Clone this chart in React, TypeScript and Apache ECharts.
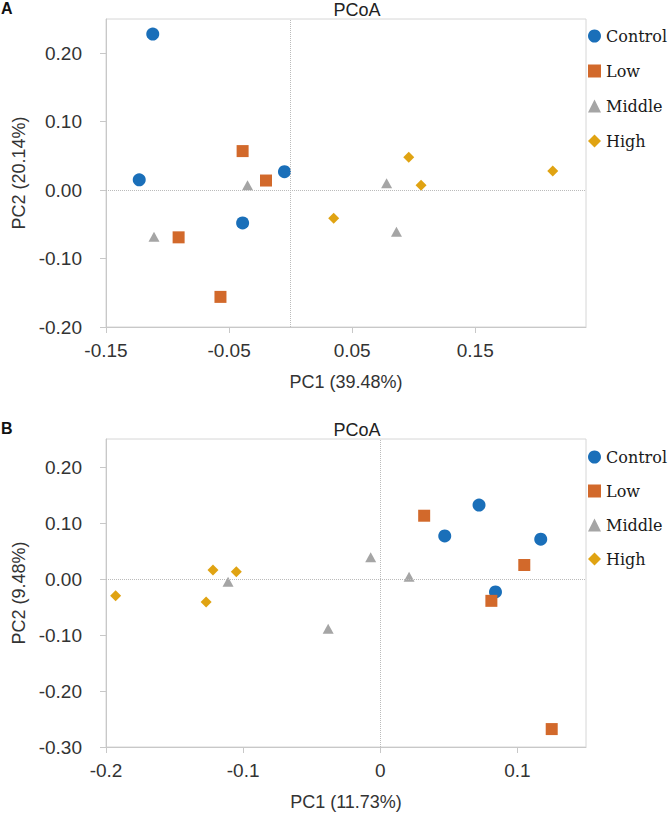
import React, { useEffect, useRef } from "react";
import * as echarts from "echarts";

// Panel A (PC1 39.48%, PC2 20.14%)
const groups = ["Control", "Low", "Middle", "High"];
const aControlX = [-0.112, -0.123, -0.005, -0.039];
const aControlY = [0.228, 0.015, 0.027, -0.048];
const aLowX = [-0.039, -0.02, -0.091, -0.057];
const aLowY = [0.057, 0.014, -0.069, -0.156];
const aMiddleX = [-0.111, -0.035, 0.078, 0.086];
const aMiddleY = [-0.068, 0.007, 0.01, -0.061];
const aHighX = [0.035, 0.096, 0.106, 0.213];
const aHighY = [-0.041, 0.048, 0.007, 0.028];

// Panel B (PC1 11.73%, PC2 9.48%)
const bControlX = [0.072, 0.047, 0.117, 0.084];
const bControlY = [0.132, 0.077, 0.071, -0.023];
const bLowX = [0.032, 0.105, 0.081, 0.125];
const bLowY = [0.113, 0.025, -0.039, -0.268];
const bMiddleX = [-0.111, -0.038, -0.007, 0.021];
const bMiddleY = [-0.005, -0.089, 0.039, 0.004];
const bHighX = [-0.193, -0.127, -0.122, -0.105];
const bHighY = [-0.03, -0.041, 0.016, 0.013];

// tick labels
const aXTicks = [-0.15, -0.05, 0.05, 0.15];
const aYTicks = [-0.2, -0.1, 0, 0.1, 0.2];
const bXTicks = [-0.2, -0.1, 0, 0.1];
const bYTicks = [-0.3, -0.2, -0.1, 0, 0.1, 0.2];

const colors = ["#1a6fb9", "#d2692b", "#a5a5a5", "#e0a312"];
const symbols = ["circle", "rect", "triangle", "diamond"];
const sizes: any[] = [13, 12, [11, 10], 11];

const SANS = "Liberation Sans";
const SERIF = "DejaVu Serif";

function zip(xs: number[], ys: number[]) {
  return xs.map((x, i) => [x, ys[i]]);
}

export default function App() {
  const ref = useRef<HTMLDivElement>(null);
  useEffect(() => {
    if (!ref.current) return;
    const chart = echarts.init(ref.current, null, { renderer: "svg" });
    const aData = [
      zip(aControlX, aControlY),
      zip(aLowX, aLowY),
      zip(aMiddleX, aMiddleY),
      zip(aHighX, aHighY),
    ];
    const bData = [
      zip(bControlX, bControlY),
      zip(bLowX, bLowY),
      zip(bMiddleX, bMiddleY),
      zip(bHighX, bHighY),
    ];
    const axisCommon = {
      axisLine: { show: true, onZero: false, lineStyle: { color: "#c8c8c8", width: 1 } },
      axisTick: { show: true, length: 6, lineStyle: { color: "#c8c8c8" } },
      splitLine: { show: false },
      nameTextStyle: { fontFamily: SANS, fontSize: 18, color: "#333" },
    };
    const labelStyle = { fontFamily: SANS, fontSize: 19, color: "#333" };
    const zeroLines = {
      silent: true,
      symbol: "none",
      label: { show: false },
      lineStyle: { type: "dotted", color: "#bbbbbb", width: 1 },
      data: [{ xAxis: 0 }, { yAxis: 0 }],
    };
    const series: any[] = [];
    [aData, bData].forEach((data, p) => {
      data.forEach((d, i) => {
        series.push({
          type: "scatter",
          name: groups[i],
          xAxisIndex: p,
          yAxisIndex: p,
          data: d,
          symbol: symbols[i],
          symbolSize: sizes[i],
          itemStyle: { color: colors[i], opacity: 1 },
          z: 3,
          markLine: i === 0 ? zeroLines : undefined,
        });
      });
    });
    const legendTextStyle = { fontFamily: SERIF, fontSize: 16, color: "#1a1a1a" };
    const legendBase = {
      orient: "vertical",
      left: 588,
      padding: 0,
      itemWidth: 13,
      itemHeight: 13,
      selectedMode: false,
      textStyle: legendTextStyle,
    };
    const legendData = groups.map((g) => ({ name: g, textStyle: legendTextStyle }));
    chart.setOption({
      animation: false,
      color: colors,
      grid: [
        { left: 106, top: 19, width: 480, height: 308, show: true, borderColor: "#d6d6d6", borderWidth: 1 },
        { left: 106, top: 439, width: 480, height: 308, show: true, borderColor: "#d6d6d6", borderWidth: 1 },
      ],
      xAxis: [
        {
          ...axisCommon,
          type: "value",
          gridIndex: 0,
          min: -0.15,
          max: 0.24,
          name: "PC1 (39.48%)",
          nameLocation: "middle",
          nameGap: 46,
          axisTick: { ...axisCommon.axisTick, customValues: aXTicks },
          axisLabel: { ...labelStyle, margin: 14, customValues: aXTicks, formatter: (v: number) => v.toFixed(2) },
        },
        {
          ...axisCommon,
          type: "value",
          gridIndex: 1,
          min: -0.2,
          max: 0.15,
          name: "PC1 (11.73%)",
          nameLocation: "middle",
          nameGap: 46,
          axisTick: { ...axisCommon.axisTick, customValues: bXTicks },
          axisLabel: {
            ...labelStyle,
            margin: 14,
            customValues: bXTicks,
            formatter: (v: number) => (Math.abs(v) < 1e-9 ? "0" : v.toFixed(1)),
          },
        },
      ],
      yAxis: [
        {
          ...axisCommon,
          type: "value",
          gridIndex: 0,
          min: -0.2,
          max: 0.25,
          name: "PC2 (20.14%)",
          nameLocation: "middle",
          nameGap: 67,
          axisTick: { ...axisCommon.axisTick, customValues: aYTicks },
          axisLabel: { ...labelStyle, margin: 24, customValues: aYTicks, formatter: (v: number) => (Math.abs(v) < 1e-9 ? "0.00" : v.toFixed(2)) },
        },
        {
          ...axisCommon,
          type: "value",
          gridIndex: 1,
          min: -0.3,
          max: 0.25,
          name: "PC2 (9.48%)",
          nameLocation: "middle",
          nameGap: 67,
          axisTick: { ...axisCommon.axisTick, customValues: bYTicks },
          axisLabel: { ...labelStyle, margin: 24, customValues: bYTicks, formatter: (v: number) => (Math.abs(v) < 1e-9 ? "0.00" : v.toFixed(2)) },
        },
      ],
      legend: [
        { ...legendBase, data: legendData, top: 28, itemGap: 19 },
        { ...legendBase, data: legendData, top: 449, itemGap: 18 },
      ],
      graphic: [
        { type: "text", x: 357, y: 10, style: { text: "PCoA", align: "center", verticalAlign: "middle", font: `18px '${SANS}'`, fill: "#222" } },
        { type: "text", x: 357, y: 430, style: { text: "PCoA", align: "center", verticalAlign: "middle", font: `18px '${SANS}'`, fill: "#222" } },
        { type: "text", x: 1, y: 8, style: { text: "A", align: "left", verticalAlign: "middle", font: `bold 16px '${SANS}'`, fill: "#111" } },
        { type: "text", x: 1, y: 428, style: { text: "B", align: "left", verticalAlign: "middle", font: `bold 16px '${SANS}'`, fill: "#111" } },
      ],
      series,
    });
    return () => chart.dispose();
  }, []);
  return <div ref={ref} style={{ position: "absolute", left: 0, top: 0, width: 672, height: 816 }} />;
}
